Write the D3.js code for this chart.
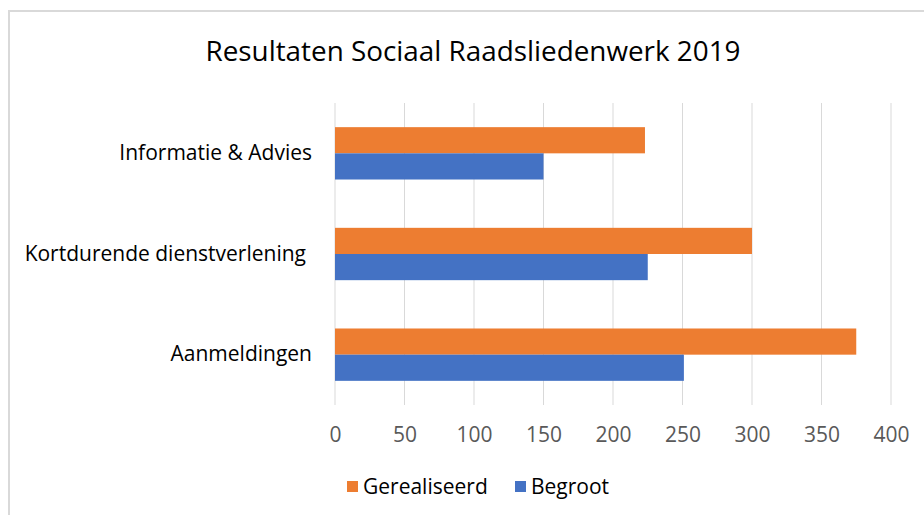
<!DOCTYPE html>
<html>
<head>
<meta charset="utf-8">
<script src="https://cdn.jsdelivr.net/npm/d3@7"></script>
<style>
  body { margin: 0; background: #fff; }
  svg text { font-family: "Open Sans", Lato, sans-serif; }
</style>
</head>
<body>
<div id="chart"></div>
<script>
// data
var categories = ["Informatie & Advies", "Kortdurende dienstverlening", "Aanmeldingen"];
var seriesNames = ["Gerealiseerd", "Begroot"];
var gerealiseerd = [223, 300, 375];
var begroot = [150, 225, 251];
var xTicks = [0, 50, 100, 150, 200, 250, 300, 350, 400];
var seriesColors = ["#ED7D31", "#4472C4"];

var width = 924, height = 515;

var svg = d3.select("#chart").append("svg")
    .attr("width", width)
    .attr("height", height);

// chart frame
svg.append("path")
    .attr("d", "M9,515 L9,11 L924,11")
    .attr("fill", "none")
    .attr("stroke", "#D9D9D9")
    .attr("stroke-width", 2);

// title
svg.append("text")
    .attr("x", 473)
    .attr("y", 61)
    .attr("text-anchor", "middle")
    .attr("font-size", 27)
    .attr("fill", "#000")
    .attr("textLength", 535)
    .attr("lengthAdjust", "spacingAndGlyphs")
    .text("Resultaten Sociaal Raadsliedenwerk 2019");

// scales
var x = d3.scaleLinear().domain([0, 400]).range([335, 891]);
var y = d3.scaleBand().domain(categories).range([103, 405])
    .paddingInner(0.48).paddingOuter(0.24);
var ySub = d3.scaleBand().domain(seriesNames).range([0, y.bandwidth()]);
var color = d3.scaleOrdinal().domain(seriesNames).range(seriesColors);

// gridlines
svg.append("g")
  .selectAll("line")
  .data(xTicks)
  .join("line")
    .attr("x1", function(d) { return x(d); })
    .attr("x2", function(d) { return x(d); })
    .attr("y1", 103)
    .attr("y2", 405)
    .attr("stroke", "#D9D9D9")
    .attr("stroke-width", 1);

// x axis labels
var xAxis = svg.append("g")
    .attr("transform", "translate(0,427)")
    .call(d3.axisBottom(x).tickValues(xTicks).tickSize(0).tickPadding(0));
xAxis.select(".domain").remove();
xAxis.selectAll("text")
    .attr("font-size", 21)
    .attr("fill", "#595959")
    .style("font-family", "'Open Sans', sans-serif");

// category labels
var yAxis = svg.append("g")
    .attr("transform", "translate(312,0)")
    .call(d3.axisLeft(y).tickSize(0).tickPadding(0));
yAxis.select(".domain").remove();
yAxis.selectAll("text")
    .attr("font-size", 21)
    .attr("fill", "#000")
    .attr("dx", function(d) { return d === "Kortdurende dienstverlening" ? -6 : 0; })
    .style("font-family", "'Open Sans', sans-serif");

// bars
var rows = categories.map(function(c, i) {
  return { category: c, values: [
    { series: "Gerealiseerd", value: gerealiseerd[i] },
    { series: "Begroot", value: begroot[i] }
  ]};
});

svg.append("g")
  .selectAll("g")
  .data(rows)
  .join("g")
    .attr("transform", function(d) { return "translate(0," + y(d.category) + ")"; })
  .selectAll("rect")
  .data(function(d) { return d.values; })
  .join("rect")
    .attr("x", x(0))
    .attr("y", function(d) { return ySub(d.series); })
    .attr("width", function(d) { return x(d.value) - x(0); })
    .attr("height", ySub.bandwidth())
    .attr("fill", function(d) { return color(d.series); });

// legend
var legendX = [347, 515];
var legend = svg.append("g")
  .selectAll("g")
  .data(seriesNames)
  .join("g")
    .attr("transform", function(d, i) { return "translate(" + legendX[i] + ",481)"; });

legend.append("rect")
    .attr("width", 11)
    .attr("height", 11)
    .attr("fill", function(d) { return color(d); });

legend.append("text")
    .attr("x", 16)
    .attr("y", 13)
    .attr("font-size", 21)
    .attr("fill", "#000")
    .text(function(d) { return d; });
</script>
</body>
</html>
